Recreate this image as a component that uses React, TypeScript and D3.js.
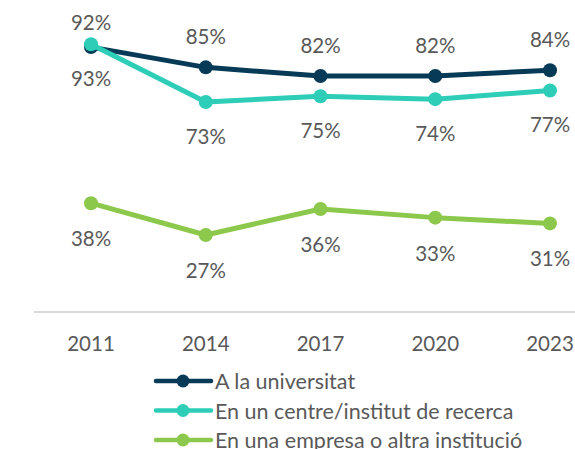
import React from "react";
import * as d3 from "d3";

const years = ["2011", "2014", "2017", "2020", "2023"];
const universitat = [92, 85, 82, 82, 84];
const centre = [93, 73, 75, 74, 77];
const empresa = [38, 27, 36, 33, 31];
const seriesNames = [
  "A la universitat",
  "En un centre/institut de recerca",
  "En una empresa o altra institució",
];

const W = 575;
const H = 449;
const FONT = "Lato, 'Open Sans', sans-serif";
const TXT = "#595959";

export default function App() {
  const x = d3.scalePoint<string>().domain(years).range([91, 550]);
  const y = d3.scaleLinear().domain([0, 100]).range([313, 24]);

  const series = [
    { name: seriesNames[0], values: universitat, color: "#063a56", pos: "above" },
    { name: seriesNames[1], values: centre, color: "#2ecdb8", pos: "below" },
    { name: seriesNames[2], values: empresa, color: "#8cc84b", pos: "below" },
  ];

  const line = d3
    .line<number>()
    .x((_, i) => x(years[i]) as number)
    .y((d) => y(d));

  return (
    <svg
      width={W}
      height={H}
      style={{ position: "absolute", left: 0, top: 0, background: "#fff" }}
      fontFamily={FONT}
    >
      <line x1={34} x2={W} y1={312} y2={312} stroke="#d9d9d9" strokeWidth={2} />
      {years.map((yr) => (
        <text
          key={yr}
          x={x(yr)}
          y={343}
          textAnchor="middle"
          dominantBaseline="central"
          fontSize={20.5}
          fill={TXT}
        >
          {yr}
        </text>
      ))}
      {series.map((s) => (
        <g key={s.name}>
          <path d={line(s.values) || ""} fill="none" stroke={s.color} strokeWidth={5} strokeLinejoin="round" />
          {s.values.map((v, i) => (
            <circle key={i} cx={x(years[i])} cy={y(v)} r={7} fill={s.color} />
          ))}
        </g>
      ))}
      {series.map((s, si) =>
        s.values.map((v, i) => {
          const py = y(v);
          const off = si === 2 ? 35 : 34;
          const ly = s.pos === "above" ? Math.max(py - 31, 22) : py + off;
          return (
            <text
              key={s.name + i}
              x={x(years[i])}
              y={ly}
              textAnchor="middle"
              dominantBaseline="central"
              fontSize={20.5}
              fill={TXT}
            >
              {v}%
            </text>
          );
        })
      )}
      {series.map((s, i) => {
        const ly = 381 + i * 29.5;
        return (
          <g key={"lg" + i}>
            <line x1={156} x2={211} y1={ly} y2={ly} stroke={s.color} strokeWidth={4.5} strokeLinecap="round" />
            <circle cx={183} cy={ly} r={6.5} fill={s.color} />
            <text x={215} y={ly} dominantBaseline="central" fontSize={21.5} fill={TXT}>
              {s.name}
            </text>
          </g>
        );
      })}
    </svg>
  );
}
